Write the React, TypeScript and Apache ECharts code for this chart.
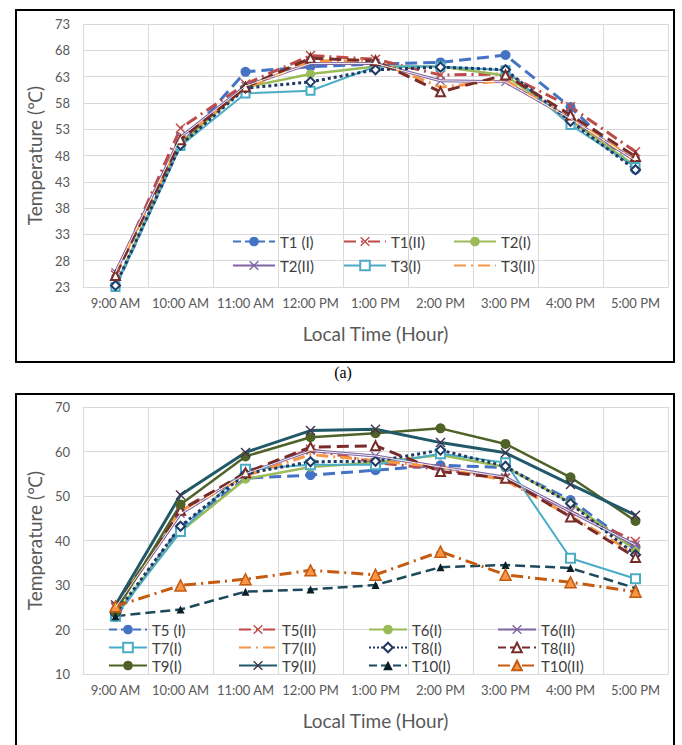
import React, { useEffect, useRef } from "react";
import * as echarts from "echarts";

const hours = ["9:00 AM", "10:00 AM", "11:00 AM", "12:00 PM", "1:00 PM", "2:00 PM", "3:00 PM", "4:00 PM", "5:00 PM"];

// Panel (a)
const t1I = [23.0, 50.0, 63.9, 64.9, 65.4, 65.7, 67.1, 57.2, 45.3];
const t1II = [25.3, 53.2, 61.6, 67.0, 66.3, 63.3, 63.5, 57.3, 48.7];
const t2I = [23.2, 50.2, 61.0, 63.5, 64.9, 64.9, 63.2, 54.6, 46.0];
const t2II = [25.8, 51.5, 61.2, 65.5, 65.5, 62.2, 62.0, 55.0, 47.0];
const t3I = [23.0, 49.8, 59.8, 60.3, 64.9, 64.9, 64.2, 53.8, 45.8];
const t3II = [25.5, 51.0, 60.8, 66.0, 66.0, 61.0, 62.3, 55.0, 47.2];
const t4I = [23.3, 50.0, 60.8, 62.0, 64.3, 64.8, 64.3, 54.5, 45.3];
const t4II = [25.2, 51.0, 61.0, 66.5, 66.0, 60.1, 63.3, 55.7, 47.8];

// Panel (b)
const t5I = [22.8, 43.0, 54.0, 54.7, 55.8, 56.9, 56.4, 49.1, 38.5];
const t5II = [25.0, 46.5, 55.0, 60.5, 57.5, 56.0, 54.0, 46.5, 39.8];
const t6I = [23.5, 42.0, 53.8, 56.5, 57.5, 59.2, 56.5, 48.5, 37.8];
const t6II = [25.0, 46.0, 55.0, 60.2, 59.0, 56.5, 54.2, 46.5, 39.0];
const t7I = [23.0, 42.0, 56.0, 57.0, 57.0, 59.5, 57.5, 36.0, 31.4];
const t7II = [25.0, 46.5, 54.5, 59.3, 58.0, 56.5, 53.5, 45.5, 37.0];
const t8I = [23.5, 43.2, 55.0, 57.7, 57.8, 60.3, 56.7, 48.3, 36.8];
const t8II = [25.0, 46.8, 55.2, 61.0, 61.3, 55.5, 54.0, 45.3, 36.2];
const t9I = [24.0, 48.1, 58.9, 63.2, 64.1, 65.2, 61.7, 54.2, 44.4];
const t9II = [25.5, 50.2, 59.8, 64.7, 65.0, 62.0, 59.7, 52.6, 45.7];
const t10I = [23.0, 24.5, 28.5, 29.0, 30.0, 34.0, 34.5, 33.8, 29.3];
const t10II = [25.2, 29.9, 31.3, 33.3, 32.3, 37.5, 32.3, 30.6, 28.5];

const topTicksMin = 23, topTicksMax = 73, topInterval = 5;
const botTicksMin = 10, botTicksMax = 70, botInterval = 10;

const topLegendNames = ["T1 (I)", "T1(II)", "T2(I)", "T2(II)", "T3(I)", "T3(II)"];
const botLegendNames = ["T5 (I)", "T5(II)", "T6(I)", "T6(II)", "T7(I)", "T7(II)", "T8(I)", "T8(II)", "T9(I)", "T9(II)", "T10(I)", "T10(II)"];
const noMarkerNames = ["T3(II)", "T7(II)"];

const X_PATH = "path://M0,1L1,0L5,4L9,0L10,1L6,5L10,9L9,10L5,6L1,10L0,9L4,5Z";
const DASH_DOT = [12, 5, 2, 5];
const FONT = "Lato, 'Open Sans', sans-serif";

const C = {
  blue: "#4472C4",
  red: "#BE4B48",
  green: "#9BBB59",
  purple: "#8064A2",
  teal: "#4BACC6",
  orange: "#F79646",
  navy: "#1F3864",
  darkred: "#772C2A",
  olive: "#4F6228",
  dteal: "#215968",
  dteal2: "#1D4A5A",
  brown: "#C55A11",
};

type Sty = {
  color: string;
  type?: any;
  width?: number;
  symbol?: string;
  size?: number;
  symColor?: string;
  border?: string;
  borderWidth?: number;
};

function line(name: string, data: number[], idx: number, s: Sty, z = 2): any {
  return {
    name,
    type: "line",
    xAxisIndex: idx,
    yAxisIndex: idx,
    data,
    z,
    symbol: s.symbol ?? "none",
    symbolSize: s.size ?? 8,
    showSymbol: s.symbol !== "none" && s.symbol !== undefined,
    lineStyle: { color: s.color, width: s.width ?? 2.5, type: s.type ?? "solid" },
    itemStyle: {
      color: s.symColor ?? s.color,
      borderColor: s.border ?? s.symColor ?? s.color,
      borderWidth: s.borderWidth ?? (s.symbol && s.symbol.startsWith("empty") ? 1.8 : 0),
    },
    emphasis: { disabled: true },
  };
}

function inner(name: string, data: number[], idx: number): any {
  return {
    name,
    type: "line",
    xAxisIndex: idx,
    yAxisIndex: idx,
    data,
    symbol: "none",
    silent: true,
    lineStyle: { color: "#ffffff", width: 0.9 },
    emphasis: { disabled: true },
  };
}

export default function App() {
  const ref = useRef<HTMLDivElement>(null);
  useEffect(() => {
    if (!ref.current) return;
    const chart = echarts.init(ref.current, undefined, { renderer: "svg" });

    const series: any[] = [
      // top
      line("T1 (I)", t1I, 0, { color: C.blue, type: "dashed", width: 3, symbol: "circle", size: 10 }),
      line("T1(II)", t1II, 0, { color: C.red, type: DASH_DOT, width: 3, symbol: X_PATH, size: 10 }),
      line("T2(I)", t2I, 0, { color: C.green, width: 2.5, symbol: "circle", size: 9 }),
      line("T2(II)", t2II, 0, { color: C.purple, width: 3, symbol: X_PATH, size: 9 }),
      inner("T2(II)-in", t2II, 0),
      line("T3(I)", t3I, 0, { color: C.teal, width: 2, symbol: "emptyRect", size: 8 }),
      line("T3(II)", t3II, 0, { color: C.orange, type: DASH_DOT, width: 3 }),
      line("T4(I)", t4I, 0, { color: C.navy, type: "dotted", width: 3, symbol: "emptyDiamond", size: 9 }),
      line("T4(II)", t4II, 0, { color: C.darkred, type: "dashed", width: 3, symbol: "emptyTriangle", size: 9 }),
      // bottom
      line("T5 (I)", t5I, 1, { color: C.blue, type: "dashed", width: 3, symbol: "circle", size: 10 }),
      line("T5(II)", t5II, 1, { color: C.red, type: DASH_DOT, width: 3, symbol: X_PATH, size: 10 }),
      line("T6(I)", t6I, 1, { color: C.green, width: 2.5, symbol: "circle", size: 9 }),
      line("T6(II)", t6II, 1, { color: C.purple, width: 3, symbol: X_PATH, size: 9 }),
      inner("T6(II)-in", t6II, 1),
      line("T7(I)", t7I, 1, { color: C.teal, width: 2, symbol: "emptyRect", size: 9 }),
      line("T7(II)", t7II, 1, { color: C.orange, type: DASH_DOT, width: 3 }),
      line("T8(I)", t8I, 1, { color: C.navy, type: "dotted", width: 3, symbol: "emptyDiamond", size: 9 }),
      line("T8(II)", t8II, 1, { color: C.darkred, type: "dashed", width: 3, symbol: "emptyTriangle", size: 9 }),
      line("T9(I)", t9I, 1, { color: C.olive, width: 2.5, symbol: "circle", size: 10 }),
      line("T9(II)", t9II, 1, { color: C.dteal, width: 3, symbol: X_PATH, size: 10, symColor: "#3F3151" }),
      line("T10(I)", t10I, 1, { color: C.dteal2, type: "dashed", width: 2.5, symbol: "triangle", size: 8, symColor: "#0B1F26" }),
      line("T10(II)", t10II, 1, { color: C.brown, type: DASH_DOT, width: 3, symbol: "triangle", size: 11, symColor: C.orange, border: C.brown, borderWidth: 1.5 }),
    ];

    const legendBase = {
      padding: 0,
      itemHeight: 12,
      selectedMode: false,
      textStyle: { fontFamily: FONT, fontSize: 15, color: "#404040" },
    };
    const legendItem = (n: string) =>
      noMarkerNames.includes(n) ? { name: n, itemStyle: { opacity: 0 } } : n;
    const topCols = [232, 343, 453];
    const topRows = [243, 267];
    const botCols = [108, 238, 368, 497];
    const botRows = [631, 649, 667];
    const legends: any[] = [];
    topLegendNames.forEach((n, i) => {
      legends.push({ ...legendBase, data: [legendItem(n)], itemWidth: 42, left: topCols[i % 3], top: topRows[Math.floor(i / 3)] - 9 });
    });
    botLegendNames.forEach((n, i) => {
      legends.push({ ...legendBase, data: [legendItem(n)], itemWidth: 38, left: botCols[i % 4], top: botRows[Math.floor(i / 4)] - 9 });
    });

    const xAxisCommon = {
      type: "category",
      data: hours,
      boundaryGap: true,
      axisLine: { show: true, lineStyle: { color: "#d9d9d9", width: 1 } },
      axisTick: { show: false },
      splitLine: { show: true, interval: 0, lineStyle: { color: "#d9d9d9", width: 1 } },
      axisLabel: { interval: 0, fontFamily: FONT, fontSize: 13, color: "#595959", margin: 9 },
      name: "Local Time (Hour)",
      nameLocation: "middle",
      nameGap: 37,
      nameTextStyle: { fontFamily: FONT, fontSize: 19, color: "#595959" },
    };
    const yAxisCommon = {
      type: "value",
      axisLine: { show: false },
      axisTick: { show: false },
      splitLine: { show: true, lineStyle: { color: "#d9d9d9", width: 1 } },
      axisLabel: { fontFamily: FONT, fontSize: 13, color: "#595959", margin: 13 },
      name: "Temperature (\u2103)",
      nameLocation: "middle",
      nameGap: 31,
      nameTextStyle: { fontFamily: FONT, fontSize: 19, color: "#595959" },
    };

    chart.setOption({
      animation: false,
      backgroundColor: "#ffffff",
      grid: [
        { left: 83, top: 24, width: 585, height: 263 },
        { left: 83, top: 407, width: 585, height: 267 },
      ],
      xAxis: [
        { ...xAxisCommon, gridIndex: 0 },
        { ...xAxisCommon, gridIndex: 1 },
      ],
      yAxis: [
        { ...yAxisCommon, gridIndex: 0, min: topTicksMin, max: topTicksMax, interval: topInterval },
        { ...yAxisCommon, gridIndex: 1, min: botTicksMin, max: botTicksMax, interval: botInterval },
      ],
      legend: legends,
      series,
      graphic: [
        { type: "rect", shape: { x: 16, y: 10, width: 658, height: 352 }, style: { fill: "none", stroke: "#000", lineWidth: 2 }, silent: true },
        { type: "rect", shape: { x: 16, y: 394, width: 658, height: 370 }, style: { fill: "none", stroke: "#000", lineWidth: 2 }, silent: true },
        {
          type: "text",
          x: 343,
          y: 372,
          style: { text: "(a)", fontFamily: "'Liberation Serif', 'DejaVu Serif', serif", fontSize: 16, fill: "#000", align: "center", verticalAlign: "middle" },
          silent: true,
        },
      ],
    });
    return () => chart.dispose();
  }, []);
  return (
    <div
      ref={ref}
      style={{ position: "absolute", left: 0, top: 0, width: 682, height: 745, background: "#fff" }}
    />
  );
}
